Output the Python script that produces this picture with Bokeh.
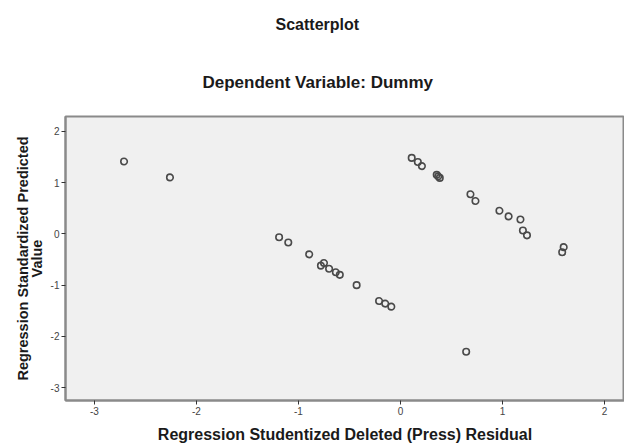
from bokeh.plotting import figure
from bokeh.models import Title, Range1d, FixedTicker
from bokeh.embed import file_html
from bokeh.resources import INLINE

# Data
residual = [-2.71, -2.26,
            -1.19, -1.10, -0.895, -0.78, -0.75, -0.70, -0.634, -0.595, -0.43,
            -0.21, -0.15, -0.09,
            0.644,
            0.11, 0.17, 0.21, 0.355, 0.37, 0.385,
            0.686, 0.735, 0.97, 1.06, 1.176, 1.20, 1.24, 1.60, 1.585]
predicted = [1.41, 1.10,
             -0.066, -0.17, -0.40, -0.62, -0.57, -0.68, -0.75, -0.80, -1.00,
             -1.31, -1.36, -1.42,
             -2.30,
             1.48, 1.40, 1.32, 1.15, 1.12, 1.09,
             0.77, 0.64, 0.45, 0.34, 0.28, 0.065, -0.03, -0.26, -0.36]
x_ticks = [-3, -2, -1, 0, 1, 2]
y_ticks = [-3, -2, -1, 0, 1, 2]
x_tick_labels = ["-3", "-2", "-1", "0", "1", "2"]
y_tick_labels = ["-3", "-2", "-1", "0", "1", "2"]

FONT = "Liberation Sans"

p = figure(width=624, height=445, output_backend="svg", toolbar_location=None,
           x_range=Range1d(-3.284, 2.196), y_range=Range1d(-3.249, 2.287),
           min_border_left=65, min_border_right=0, min_border_top=116,
           min_border_bottom=45)

p.title.text = "Scatterplot"
p.title.align = "left"
p.title.offset = 210
p.title.text_font = FONT
p.title.text_font_size = "16px"
p.title.text_font_style = "bold"
p.title.text_color = "#1a1a1a"
p.title.standoff = 26

p.add_layout(Title(text="Dependent Variable: Dummy", align="left", offset=137,
                   text_font=FONT, text_font_size="17px", text_font_style="bold",
                   text_color="#1a1a1a", standoff=50), "above")

p.background_fill_color = "#f0f0f0"
p.border_fill_color = "white"
p.outline_line_color = "#8a8a8a"
p.outline_line_width = 2
p.xgrid.visible = False
p.ygrid.visible = False

for ax in (p.xaxis[0], p.yaxis[0]):
    ax.axis_line_color = "#8a8a8a"
    ax.axis_line_width = 2
    ax.major_tick_line_color = "#333333"
    ax.major_tick_out = 4
    ax.major_tick_in = 0
    ax.minor_tick_line_color = None
    ax.major_label_text_font = FONT
    ax.major_label_text_font_size = "10px"
    ax.major_label_text_color = "#444444"
    ax.major_label_standoff = 2
    ax.axis_label_text_font = FONT
    ax.axis_label_text_font_style = "bold"
    ax.axis_label_text_color = "#1a1a1a"

p.xaxis.ticker = FixedTicker(ticks=x_ticks)
p.yaxis.ticker = FixedTicker(ticks=y_ticks)
p.xaxis.major_label_overrides = dict(zip(x_ticks, x_tick_labels))
p.yaxis.major_label_overrides = dict(zip(y_ticks, y_tick_labels))
p.xaxis.axis_label = "Regression Studentized Deleted (Press) Residual"
p.xaxis.axis_label_text_font_size = "16px"
p.xaxis.axis_label_standoff = 8
p.yaxis.axis_label = "Regression Standardized Predicted\nValue"
p.yaxis.axis_label_text_font_size = "14.5px"
p.yaxis.axis_label_text_line_height = 0.85
p.yaxis.axis_label_standoff = 3

p.scatter(residual, predicted, marker="circle", size=6.5, fill_color=None,
          line_color="#4a4a4a", line_width=1.6)

open("out.html", "w").write(file_html(p, INLINE))
